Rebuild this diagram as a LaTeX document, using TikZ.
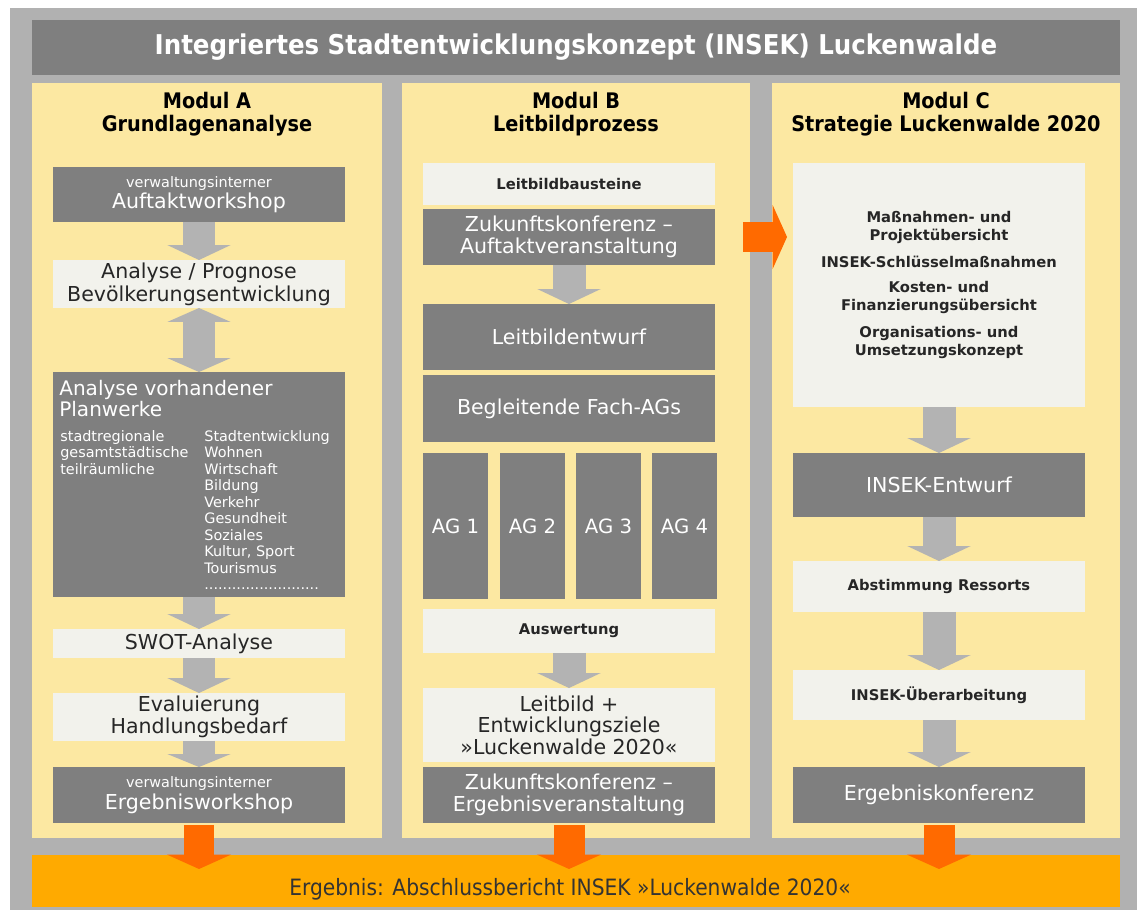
\documentclass[tikz,border=0pt]{standalone}
\usepackage{fontspec}
\setmainfont{DejaVu Sans}
\newfontfamily\schmal{DejaVu Sans Condensed}
\usepackage{tikz}
\usetikzlibrary{arrows.meta,fit,positioning}

\definecolor{rahmen}{HTML}{B1B1B1}
\definecolor{balken}{HTML}{7F7F7F}
\definecolor{modgelb}{HTML}{FCE8A2}
\definecolor{hell}{HTML}{F2F2EC}
\definecolor{pfeilgrau}{HTML}{B3B3B3}
\definecolor{pfeilorange}{HTML}{FF6A00}
\definecolor{ergebnis}{HTML}{FFAA00}
\newcommand\kleintext{\fontsize{8.2}{9}\selectfont}

\begin{document}
\begin{tikzpicture}[x=0.02cm, y=-0.02cm,
  feld/.style={inner sep=0pt, outer sep=0pt},
  modcol/.style={feld, fill=modgelb},
  modtitle/.style={inner sep=0pt, align=center, font=\schmal\bfseries\fontsize{12.2}{13.2}\selectfont},
  darkbox/.style={feld, minimum width=5.84cm, fill=balken, text=white, align=center, font=\fontsize{11.7}{12.3}\selectfont},
  lightbox/.style={feld, minimum width=5.84cm, fill=hell, text=black!85, align=center, font=\fontsize{11.7}{12.3}\selectfont},
  boldsmall/.style={font=\bfseries\fontsize{8.4}{10.2}\selectfont},
  listtext/.style={inner sep=0pt, align=left, text=white, font=\fontsize{8.2}{9.4}\selectfont},
  grayarrow/.style={draw=pfeilgrau, line width=0.66cm, -{Triangle[width=1.26cm, length=0.3cm]}},
  orangearrow/.style={draw=pfeilorange, line width=0.62cm, -{Triangle[width=1.28cm, length=0.29cm]}}]
\fill[white] (0,0) rectangle (1137,912);
\fill[rahmen] (10,8) rectangle (1137,910);
\node[feld, fill=balken, text=white, minimum width=21.76cm, minimum height=1.1cm, font=\schmal\bfseries\fontsize{15.5}{17}\selectfont] (titel) at (576,47.5) {Integriertes Stadtentwicklungskonzept (INSEK) Luckenwalde};

\node[modcol, fit={(32,83) (382,838)}] (colA) {};
\node[modtitle, below=0.18cm of colA.north] (headA) {Modul A\\Grundlagenanalyse};
\node[darkbox, minimum height=1.1cm] (auftakt) at (199,194.5) {{\kleintext verwaltungsinterner}\\Auftaktworkshop};
\node[lightbox, minimum height=0.96cm, font=\fontsize{11.7}{13}\selectfont] (prognose) at (199,284) {Analyse / Prognose\\Bevölkerungsentwicklung};
\node[darkbox, minimum height=4.5cm] (planwerke) at (199,484.5) {};
\node[inner sep=0pt, text=white, anchor=north west, align=left, font=\fontsize{11.4}{12}\selectfont] (planhead) at (59,380) {Analyse vorhandener\\Planwerke};
\node[listtext, anchor=north west] (ebenen) at (60,430) {stadtregionale\\gesamtstädtische\\teilräumliche};
\node[listtext, anchor=north west] (themen) at (204,430) {Stadtentwicklung\\Wohnen\\Wirtschaft\\Bildung\\Verkehr\\Gesundheit\\Soziales\\Kultur, Sport\\Tourismus\\.........................};
\node[lightbox, minimum height=0.58cm] (swot) at (199,643.5) {SWOT-Analyse};
\node[lightbox, minimum height=0.96cm] (evaluierung) at (199,717) {Evaluierung\\Handlungsbedarf};
\node[darkbox, minimum height=1.12cm] (ergws) at (199,795) {{\kleintext verwaltungsinterner}\\Ergebnisworkshop};
\draw[grayarrow] (auftakt.south) -- (prognose.north);
\draw[grayarrow, {Triangle[width=1.26cm, length=0.28cm]}-{Triangle[width=1.26cm, length=0.28cm]}] (prognose.south) -- (planwerke.north);
\draw[grayarrow] (planwerke.south) -- (swot.north);
\draw[grayarrow] (swot.south) -- (evaluierung.north);
\draw[grayarrow, -{Triangle[width=1.26cm, length=0.26cm]}] (evaluierung.south) -- (ergws.north);

\node[modcol, fit={(402,83) (750,838)}] (colB) {};
\node[modtitle, below=0.18cm of colB.north] (headB) {Modul B\\Leitbildprozess};
\node[lightbox, boldsmall, minimum height=0.84cm] (bausteine) at (569,184) {Leitbildbausteine};
\node[darkbox, minimum height=1.12cm] (zukunftA) at (569,237) {Zukunftskonferenz –\\Auftaktveranstaltung};
\node[darkbox, minimum height=1.32cm] (leitentwurf) at (569,337) {Leitbildentwurf};
\node[darkbox, minimum height=1.34cm] (fachags) at (569,408.5) {Begleitende Fach-AGs};
\foreach \i/\xm in {1/455.5,2/532.5,3/608.5,4/684.5}
  \node[darkbox, minimum width=1.3cm, minimum height=2.92cm, font=\fontsize{11.2}{12}\selectfont] (ag\i) at (\xm,526) {AG \i};
\node[lightbox, boldsmall, minimum height=0.88cm] (auswertung) at (569,631) {Auswertung};
\node[lightbox, minimum height=1.48cm] (leitbild) at (569,725) {Leitbild +\\Entwicklungsziele\\»Luckenwalde 2020«};
\node[darkbox, minimum height=1.12cm] (zukunftE) at (569,795) {Zukunftskonferenz –\\Ergebnisveranstaltung};
\draw[grayarrow] (zukunftA.south) -- (leitentwurf.north);
\draw[grayarrow] (auswertung.south) -- (leitbild.north);

\node[modcol, fit={(772,83) (1120,838)}] (colC) {};
\node[modtitle, below=0.18cm of colC.north] (headC) {Modul C\\Strategie Luckenwalde 2020};
\node[lightbox, boldsmall, minimum height=4.88cm] (massnahmen) at (939,285) {Maßnahmen- und\\Projektübersicht\\[5pt]INSEK-Schlüsselmaßnahmen\\[4pt]Kosten- und\\Finanzierungsübersicht\\[5pt]Organisations- und\\Umsetzungskonzept};
\node[darkbox, minimum height=1.28cm] (insekentwurf) at (939,485) {INSEK-Entwurf};
\node[lightbox, boldsmall, minimum height=1.02cm] (abstimmung) at (939,586.5) {Abstimmung Ressorts};
\node[lightbox, boldsmall, minimum height=1cm] (ueberarbeitung) at (939,695) {INSEK-Überarbeitung};
\node[darkbox, minimum height=1.12cm] (ergkonf) at (939,795) {Ergebniskonferenz};
\draw[grayarrow] (massnahmen.south) -- (insekentwurf.north);
\draw[grayarrow] (insekentwurf.south) -- (abstimmung.north);
\draw[grayarrow] (abstimmung.south) -- (ueberarbeitung.north);
\draw[grayarrow] (ueberarbeitung.south) -- (ergkonf.north);

\draw[orangearrow, shorten <=0.56cm, shorten >=0.12cm] (zukunftA.east) -- (zukunftA.east -| massnahmen.west);

\node[feld, fill=ergebnis, fit={(32,855) (1120,907)}] (bericht) {};
\node[inner sep=0pt, text=black!80, font=\schmal\fontsize{12.8}{14}\selectfont] (berichttext) at (570,889) {Ergebnis: Abschlussbericht INSEK »Luckenwalde 2020«};
\draw[orangearrow, shorten <=0.04cm, shorten >=-0.28cm] (ergws.south) -- (ergws.south |- bericht.north);
\draw[orangearrow, shorten <=0.04cm, shorten >=-0.28cm] (zukunftE.south) -- (zukunftE.south |- bericht.north);
\draw[orangearrow, shorten <=0.04cm, shorten >=-0.28cm] (ergkonf.south) -- (ergkonf.south |- bericht.north);
\end{tikzpicture}
\end{document}
